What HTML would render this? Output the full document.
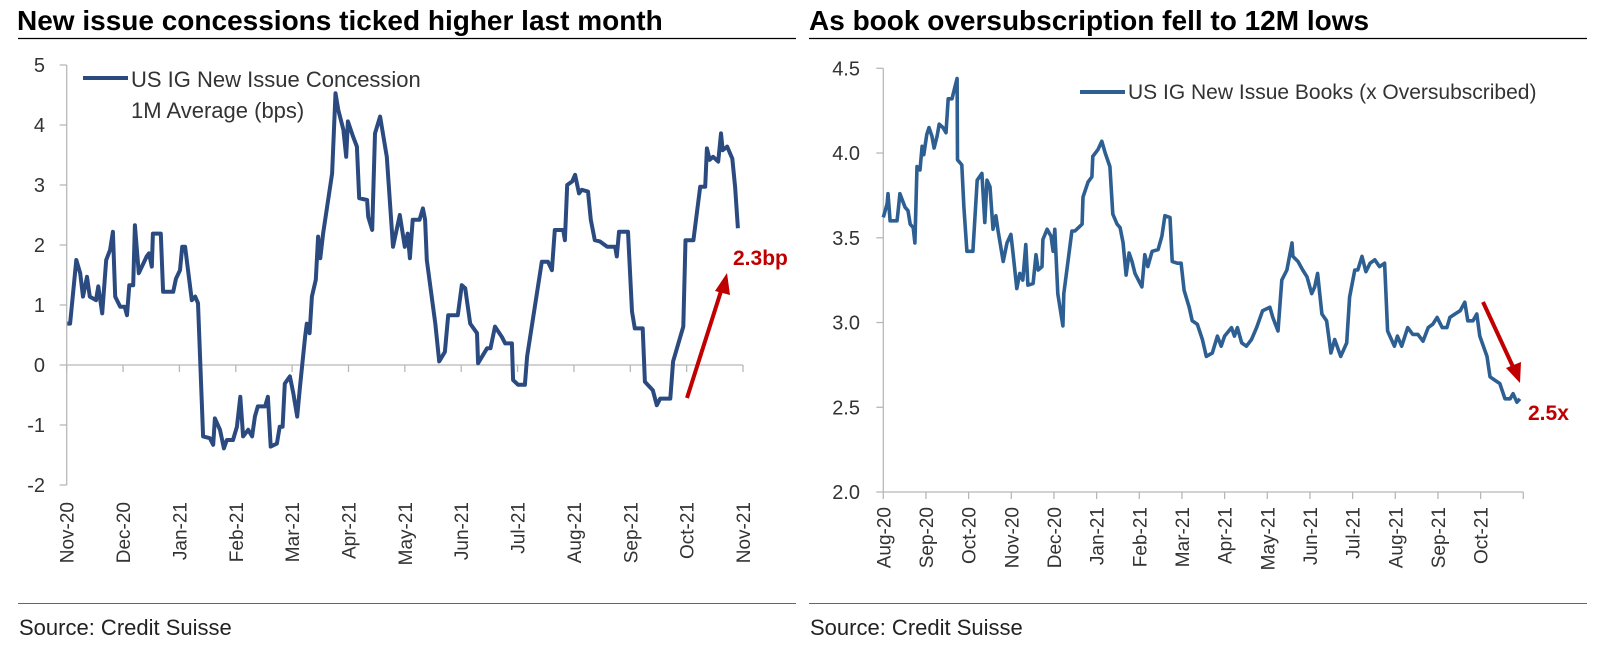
<!DOCTYPE html>
<html><head><meta charset="utf-8">
<style>
html,body{margin:0;padding:0;background:#fff;}
svg{display:block;font-family:"Liberation Sans",Arial,sans-serif;}
</style></head>
<body>
<svg id="svg" width="1600" height="645" viewBox="0 0 1600 645">
  <text x="17" y="30" font-size="28" font-weight="bold" fill="#000">New issue concessions ticked higher last month</text>
  <line x1="18" y1="38.5" x2="796" y2="38.5" stroke="#000" stroke-width="1.3"/>
  <text x="809" y="30" font-size="28" font-weight="bold" fill="#000">As book oversubscription fell to 12M lows</text>
  <line x1="809" y1="38.5" x2="1587" y2="38.5" stroke="#000" stroke-width="1.3"/>
  <line x1="18" y1="603.5" x2="796" y2="603.5" stroke="#666" stroke-width="1"/>
  <line x1="809" y1="603.5" x2="1587" y2="603.5" stroke="#666" stroke-width="1"/>
  <text x="19" y="635" font-size="22" fill="#222">Source: Credit Suisse</text>
  <text x="810" y="635" font-size="22" fill="#222">Source: Credit Suisse</text>

  <g id="left"></g>
  <g id="right"></g>

  <line x1="83" y1="78" x2="128" y2="78" stroke="#2a4a80" stroke-width="4"/>
  <text x="131" y="87" font-size="22" fill="#333">US IG New Issue Concession</text>
  <text x="131" y="118" font-size="22" fill="#333">1M Average (bps)</text>
  <line x1="1080" y1="92" x2="1125" y2="92" stroke="#2e5f92" stroke-width="4"/>
  <text x="1128" y="99" font-size="21" fill="#333">US IG New Issue Books (x Oversubscribed)</text>

  <line x1="687" y1="398" x2="722" y2="288" stroke="#c00000" stroke-width="4"/>
  <polygon points="727,273 715,291 730,295" fill="#c00000"/>
  <text x="733" y="265" font-size="21" font-weight="bold" fill="#c00000">2.3bp</text>
  <line x1="1483" y1="302" x2="1514" y2="369" stroke="#c00000" stroke-width="4"/>
  <polygon points="1520,383 1506,368 1521,362" fill="#c00000"/>
  <text x="1528" y="420" font-size="21" font-weight="bold" fill="#c00000">2.5x</text>
</svg>
<script>
// Left chart data: t = months since Nov-20, v = concession (bps)
const leftMonths = ["Nov-20","Dec-20","Jan-21","Feb-21","Mar-21","Apr-21","May-21","Jun-21","Jul-21","Aug-21","Sep-21","Oct-21","Nov-21"];
const leftTicks = [5,4,3,2,1,0,-1,-2];
const leftT = [0.01,0.06,0.17,0.24,0.29,0.36,0.41,0.52,0.56,0.63,0.70,0.77,0.82,0.86,0.95,1.03,1.07,1.11,1.18,1.21,1.28,1.42,1.46,1.51,1.53,1.67,1.71,1.89,1.94,2.01,2.05,2.10,2.22,2.28,2.33,2.42,2.54,2.60,2.63,2.72,2.79,2.84,2.95,3.02,3.08,3.13,3.22,3.29,3.34,3.39,3.52,3.57,3.62,3.73,3.78,3.83,3.87,3.96,4.02,4.09,4.14,4.23,4.26,4.31,4.35,4.42,4.46,4.50,4.55,4.71,4.77,4.82,4.91,4.96,4.99,5.08,5.15,5.19,5.33,5.35,5.42,5.47,5.56,5.68,5.79,5.91,6.00,6.05,6.09,6.14,6.26,6.32,6.36,6.39,6.54,6.61,6.71,6.77,6.94,7.01,7.07,7.16,7.28,7.30,7.46,7.52,7.60,7.72,7.78,7.90,7.92,8.01,8.13,8.17,8.43,8.54,8.61,8.66,8.81,8.84,8.88,8.97,9.02,9.09,9.14,9.25,9.30,9.37,9.46,9.59,9.73,9.76,9.80,9.96,10.03,10.08,10.22,10.26,10.40,10.47,10.53,10.71,10.76,10.94,10.98,11.12,11.24,11.33,11.36,11.41,11.47,11.56,11.61,11.64,11.72,11.81,11.86,11.91];
const leftV = [0.69,0.69,1.75,1.53,1.14,1.47,1.14,1.08,1.31,0.86,1.75,1.92,2.22,1.14,0.97,0.97,0.83,1.33,1.33,2.33,1.53,1.81,1.86,1.64,2.19,2.19,1.22,1.22,1.44,1.58,1.97,1.97,1.08,1.14,1.03,-1.19,-1.22,-1.33,-0.89,-1.08,-1.39,-1.25,-1.25,-1.03,-0.53,-1.19,-1.08,-1.19,-0.86,-0.69,-0.69,-0.53,-1.36,-1.31,-1.03,-1.03,-0.31,-0.19,-0.47,-0.86,-0.36,0.47,0.69,0.53,1.14,1.42,2.14,1.78,2.19,3.19,4.53,4.25,3.92,3.47,4.06,3.81,3.64,2.78,2.75,2.47,2.25,3.86,4.14,3.47,1.97,2.5,1.97,2.19,1.78,2.42,2.42,2.61,2.42,1.75,0.69,0.06,0.22,0.83,0.83,1.33,1.28,0.69,0.53,0.03,0.28,0.28,0.64,0.47,0.36,0.36,-0.25,-0.33,-0.33,0.14,1.72,1.72,1.58,2.25,2.25,2.08,3.0,3.06,3.17,2.86,2.92,2.89,2.42,2.08,2.06,1.97,1.97,1.81,2.22,2.22,0.89,0.61,0.61,-0.28,-0.42,-0.67,-0.56,-0.56,0.06,0.64,2.08,2.08,2.97,2.97,3.61,3.42,3.47,3.39,3.86,3.58,3.64,3.44,2.97,2.28];

// Right chart data: t = months since Aug-20, v = books (x oversubscribed)
const rightMonths = ["Aug-20","Sep-20","Oct-20","Nov-20","Dec-20","Jan-21","Feb-21","Mar-21","Apr-21","May-21","Jun-21","Jul-21","Aug-21","Sep-21","Oct-21"];
const rightTicks = ["4.5","4.0","3.5","3.0","2.5","2.0"];
const rightT = [0.00,0.09,0.11,0.16,0.32,0.34,0.39,0.51,0.58,0.63,0.70,0.74,0.79,0.86,0.91,0.95,1.02,1.07,1.14,1.19,1.26,1.31,1.40,1.47,1.52,1.61,1.66,1.73,1.74,1.84,1.89,1.96,2.10,2.20,2.31,2.38,2.43,2.50,2.57,2.64,2.69,2.81,2.90,2.99,3.04,3.13,3.20,3.27,3.34,3.39,3.51,3.58,3.63,3.72,3.74,3.84,3.93,3.98,4.02,4.09,4.21,4.23,4.42,4.49,4.66,4.68,4.80,4.89,4.91,5.03,5.12,5.20,5.31,5.38,5.48,5.55,5.62,5.69,5.76,5.83,5.90,6.06,6.13,6.20,6.30,6.44,6.53,6.60,6.72,6.77,6.89,6.98,7.05,7.17,7.24,7.36,7.48,7.57,7.71,7.83,7.92,8.00,8.16,8.23,8.30,8.40,8.51,8.63,8.75,8.89,9.06,9.13,9.25,9.34,9.46,9.58,9.60,9.72,9.83,9.93,10.04,10.11,10.18,10.28,10.39,10.49,10.58,10.72,10.86,10.93,11.05,11.12,11.22,11.31,11.41,11.52,11.63,11.75,11.82,11.98,12.05,12.15,12.29,12.41,12.53,12.65,12.77,12.88,12.98,13.10,13.21,13.28,13.40,13.52,13.63,13.70,13.82,13.91,13.98,14.15,14.22,14.33,14.45,14.57,14.69,14.76,14.85,14.92];
const rightV = [3.62,3.70,3.76,3.60,3.60,3.64,3.76,3.68,3.66,3.58,3.56,3.47,3.92,3.90,4.04,3.99,4.11,4.15,4.10,4.03,4.10,4.17,4.15,4.12,4.32,4.32,4.37,4.44,3.96,3.93,3.68,3.42,3.42,3.84,3.88,3.59,3.84,3.80,3.55,3.63,3.54,3.36,3.47,3.52,3.41,3.20,3.29,3.25,3.46,3.22,3.23,3.40,3.31,3.33,3.49,3.55,3.51,3.42,3.55,3.17,2.98,3.17,3.54,3.54,3.58,3.74,3.83,3.86,3.98,4.02,4.07,4.00,3.92,3.64,3.58,3.56,3.47,3.28,3.41,3.36,3.29,3.21,3.40,3.33,3.42,3.43,3.51,3.63,3.62,3.36,3.35,3.35,3.19,3.09,3.01,2.99,2.90,2.80,2.82,2.92,2.86,2.92,2.97,2.92,2.97,2.88,2.86,2.90,2.97,3.07,3.09,3.03,2.95,3.25,3.31,3.47,3.39,3.36,3.31,3.27,3.17,3.21,3.29,3.05,3.01,2.82,2.90,2.80,2.88,3.15,3.31,3.31,3.39,3.30,3.35,3.37,3.33,3.35,2.95,2.86,2.92,2.86,2.97,2.93,2.93,2.89,2.97,2.99,3.03,2.97,2.97,3.03,3.05,3.07,3.12,3.01,3.01,3.05,2.92,2.80,2.68,2.66,2.64,2.55,2.55,2.58,2.53,2.55];

const NS = "http://www.w3.org/2000/svg";
function mk(parent, tag, attrs, text) {
  const e = document.createElementNS(NS, tag);
  for (const k in attrs) e.setAttribute(k, attrs[k]);
  if (text !== undefined) e.textContent = text;
  parent.appendChild(e);
  return e;
}
const AX = "#b8b8b8", LBL = "#333";

// ---- Left chart ----
(function () {
  const g = document.getElementById("left");
  const x0 = 66.7, x1 = 743.0, yTop = 65, yBot = 485, vMax = 5, vMin = -2;
  const xS = t => x0 + t / (leftMonths.length - 1) * (x1 - x0);
  const yS = v => yTop + (vMax - v) / (vMax - vMin) * (yBot - yTop);
  const ya = mk(g, "line", {x1: x0, y1: yTop, x2: x0, y2: yBot, stroke: AX, "stroke-width": 1.3});
  
  
  leftTicks.forEach(v => {
    const tk = mk(g, "line", {x1: x0 - 7, y1: yS(v), x2: x0, y2: yS(v), stroke: AX, "stroke-width": 1.3});
    
    
    const tl = mk(g, "text", {x: 45, y: yS(v) + 7, "font-size": 20, fill: LBL, "text-anchor": "end"}, String(v));
    
    
  });
  const xa = mk(g, "line", {x1: x0, y1: yS(0), x2: x1, y2: yS(0), stroke: AX, "stroke-width": 1.3});
  
  
  leftMonths.forEach((m, i) => {
    const x = xS(i);
    const tk = mk(g, "line", {x1: x, y1: yS(0), x2: x, y2: yS(0) + 7, stroke: AX, "stroke-width": 1.3});
    
    
    const tl = mk(g, "text", {x: 0, y: 0, "font-size": 19, fill: LBL, "text-anchor": "end",
      transform: `translate(${x + 7},502) rotate(-90)`}, m);
    
    
  });
  const d = leftT.map((t, i) => (i ? "L" : "M") + xS(t).toFixed(1) + "," + yS(leftV[i]).toFixed(1)).join("");
  const p = mk(g, "path", {d: d, fill: "none", stroke: "#2a4a80", "stroke-width": 4, "stroke-linejoin": "round"});
  
  
})();

// ---- Right chart ----
(function () {
  const g = document.getElementById("right");
  const x0 = 883.3, x1 = 1523.3, yTop = 68.3, yBot = 492, vMax = 4.5, vMin = 2.0;
  const xS = t => x0 + t / rightMonths.length * (x1 - x0);
  const yS = v => yTop + (vMax - v) / (vMax - vMin) * (yBot - yTop);
  const ya = mk(g, "line", {x1: x0, y1: yTop, x2: x0, y2: yBot, stroke: AX, "stroke-width": 1.3});
  
  
  rightTicks.forEach(s => {
    const v = parseFloat(s);
    const tk = mk(g, "line", {x1: x0 - 7, y1: yS(v), x2: x0, y2: yS(v), stroke: AX, "stroke-width": 1.3});
    
    
    const tl = mk(g, "text", {x: 860, y: yS(v) + 7, "font-size": 20, fill: LBL, "text-anchor": "end"}, s);
    
    
  });
  const xa = mk(g, "line", {x1: x0, y1: yBot, x2: x1, y2: yBot, stroke: AX, "stroke-width": 1.3});
  
  
  for (let i = 0; i <= rightMonths.length; i++) {
    const x = xS(i);
    const tk = mk(g, "line", {x1: x, y1: yBot, x2: x, y2: yBot + 7, stroke: AX, "stroke-width": 1.3});
    
    
  }
  rightMonths.forEach((m, i) => {
    const x = xS(i);
    const tl = mk(g, "text", {x: 0, y: 0, "font-size": 19, fill: LBL, "text-anchor": "end",
      transform: `translate(${x + 7},507) rotate(-90)`}, m);
    
    
  });
  const d = rightT.map((t, i) => (i ? "L" : "M") + xS(t).toFixed(1) + "," + yS(rightV[i]).toFixed(1)).join("");
  const p = mk(g, "path", {d: d, fill: "none", stroke: "#2e5f92", "stroke-width": 3.6, "stroke-linejoin": "round"});
  
  
})();
</script>
</body></html>
